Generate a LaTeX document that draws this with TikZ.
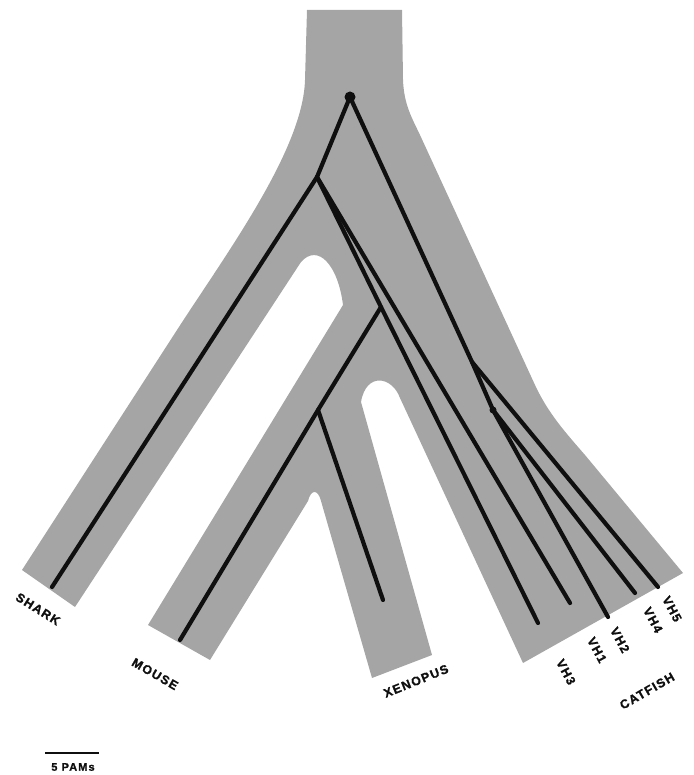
\documentclass[tikz,border=0pt]{standalone}
\usepackage{fontspec}
\newfontfamily\lblfont{Liberation Sans Bold}[LetterSpace=10, FakeBold=1.2]
\definecolor{trink}{RGB}{15,15,15}
\definecolor{trgray}{RGB}{165,165,165}
\tikzset{
  sptube/.style={fill=trgray, draw=none},
  gene/.style={draw=trink, line width=4.2pt, line cap=round, line join=round},
  knot/.style={circle, fill=trink, inner sep=0pt, minimum size=#1},
  taxon/.style={font={\lblfont\fontsize{12.5}{14}\selectfont}, text=trink, inner sep=0pt},
  vhlab/.style={taxon, rotate=-62},
  pamlab/.style={font={\lblfont\fontsize{11}{13}\selectfont}, text=trink, inner sep=0pt}
}

\begin{document}
\begin{tikzpicture}[x=1pt, y=-1pt]
  \useasboundingbox (0,0) rectangle (693,775);
  % species tree
  \fill[sptube] (307,10) -- (402,10) -- (403,80)
    .. controls (404,105) and (412,118) .. (420,135) -- (535,385)
    .. controls (548,413) and (565,432) .. (585,455) -- (683,573)
    -- (523,663) -- (400,398)
    .. controls (392,376) and (366,372) .. (361,402)
    -- (432,655) -- (372,678) -- (321,501)
    .. controls (318,489) and (311,489) .. (308,501)
    -- (210,660) -- (148,625) -- (343,305)
    .. controls (338,265) and (318,243) .. (301,262)
    -- (75,607) -- (22,570) -- (177,330)
    .. controls (226,254) and (303,150) .. (305,80) -- cycle;
  % gene tree
  \coordinate (root) at (350,97);
  \coordinate (nB) at (317,177);
  \coordinate (nC) at (381,307);
  \coordinate (nD) at (318,410);
  \coordinate (nE) at (472,362);
  \coordinate (nF) at (493,410);
  \coordinate (shark) at (52,587);
  \coordinate (mouse) at (180,640);
  \coordinate (xenopus) at (383,600);
  \coordinate (vh1) at (570,603);
  \coordinate (vh2) at (608,617);
  \coordinate (vh3) at (538,623);
  \coordinate (vh4) at (635,593);
  \coordinate (vh5) at (658,587);
  \draw[gene] (root) -- (nB) -- (shark);
  \draw[gene] (nB) -- (nC) -- (vh3);
  \draw[gene] (nC) -- (nD) -- (mouse);
  \draw[gene] (nD) -- (xenopus);
  \draw[gene] (nB) -- (vh1);
  \draw[gene] (root) -- (nE) -- (vh5);
  \draw[gene] (nE) -- (nF) -- (vh4);
  \draw[gene] (nF) -- (vh2);
  \node[knot=11pt] (rootdot) at (root) {};
  \node[knot=7pt] (fdot) at (nF) {};
  % labels
  \node[taxon, rotate=-32] (lshark) at (38,609) {SHARK};
  \node[taxon, rotate=-30] (lmouse) at (155,674) {MOUSE};
  \node[taxon, rotate=22] (lxen) at (416,681) {XENOPUS};
  \node[taxon, rotate=30] (lcat) at (647,691) {CATFISH};
  \node[vhlab] (lvh3) at (566,672) {VH3};
  \node[vhlab] (lvh1) at (597,650) {VH1};
  \node[vhlab] (lvh2) at (620,640) {VH2};
  \node[vhlab] (lvh4) at (653,620) {VH4};
  \node[vhlab] (lvh5) at (672,609) {VH5};
  % scale
  \coordinate (barL) at (45,753);
  \coordinate (barR) at (99,753);
  \draw[trink, line width=2.4pt] (barL) -- (barR);
  \node[pamlab] (pam) at (73,767) {5 PAMs};
\end{tikzpicture}
\end{document}
